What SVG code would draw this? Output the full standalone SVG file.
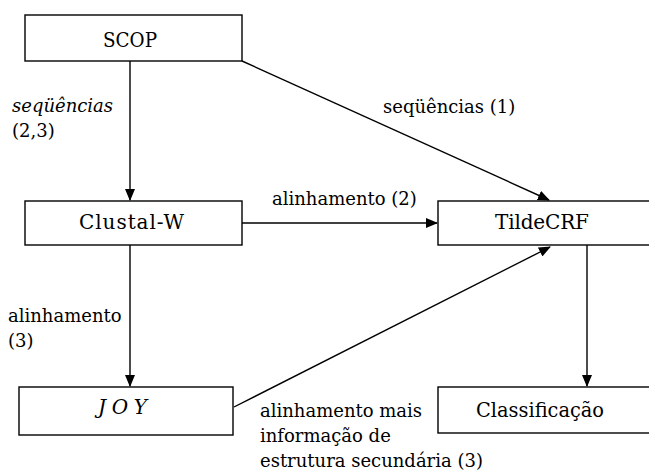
<svg xmlns="http://www.w3.org/2000/svg" width="649" height="476" viewBox="0 0 649 476">
<style>
.box{fill:#fff;stroke:#000;stroke-width:1.4}
.lbl{font-family:"DejaVu Serif","Liberation Serif",serif;font-size:20px;fill:#000}
.t{font-family:"DejaVu Serif","Liberation Serif",serif;font-size:18px;fill:#000}
.it{font-style:italic}
.ln{fill:none;stroke:#000;stroke-width:1.4;marker-end:url(#ah)}
</style>
<defs>
<marker id="ah" markerWidth="12" markerHeight="10" refX="11" refY="5" orient="auto" markerUnits="userSpaceOnUse">
<path d="M0,0 L12,5 L0,10 Z" fill="#000"/>
</marker>
</defs>
<rect width="649" height="476" fill="#fff"/>
<g id="connectors">
<line class="ln" x1="130" y1="61" x2="130" y2="200"/>
<line class="ln" x1="242" y1="61" x2="549" y2="200"/>
<line class="ln" x1="242" y1="223" x2="437" y2="223"/>
<line class="ln" x1="130" y1="245" x2="130" y2="386"/>
<line class="ln" x1="234" y1="407" x2="550" y2="247"/>
<line class="ln" x1="587" y1="245" x2="587" y2="386"/>
<text class="t it" x="12" y="112">seqüências</text>
<text class="t" x="12" y="137">(2,3)</text>
<text class="t" x="383" y="113">seqüências (1)</text>
<text class="t" x="272" y="205">alinhamento (2)</text>
<text class="t" x="8" y="322">alinhamento</text>
<text class="t" x="8" y="347">(3)</text>
<text class="t" x="260" y="417">alinhamento mais</text>
<text class="t" x="260" y="442">informação de</text>
<text class="t" x="260" y="467">estrutura secundária (3)</text>
</g>
<g id="scop">
<rect class="box" x="25" y="15" width="217" height="46"/>
<text class="lbl" x="103" y="47" textLength="54" lengthAdjust="spacingAndGlyphs">SCOP</text>
</g>
<g id="clustalw">
<rect class="box" x="25" y="201" width="217" height="44"/>
<text class="lbl" x="79" y="229" textLength="105" lengthAdjust="spacing">Clustal-W</text>
</g>
<g id="joy">
<rect class="box" x="19" y="387" width="214" height="48"/>
<text class="lbl it" x="98" y="414" textLength="49" lengthAdjust="spacing">JOY</text>
</g>
<g id="tildecrf">
<rect class="box" x="438" y="201" width="220" height="44"/>
<text class="lbl" x="495" y="229" textLength="94" lengthAdjust="spacing">TildeCRF</text>
</g>
<g id="classificacao">
<rect class="box" x="438" y="387" width="220" height="46"/>
<text class="lbl" x="476" y="417" textLength="128" lengthAdjust="spacingAndGlyphs">Classificação</text>
</g>
</svg>
